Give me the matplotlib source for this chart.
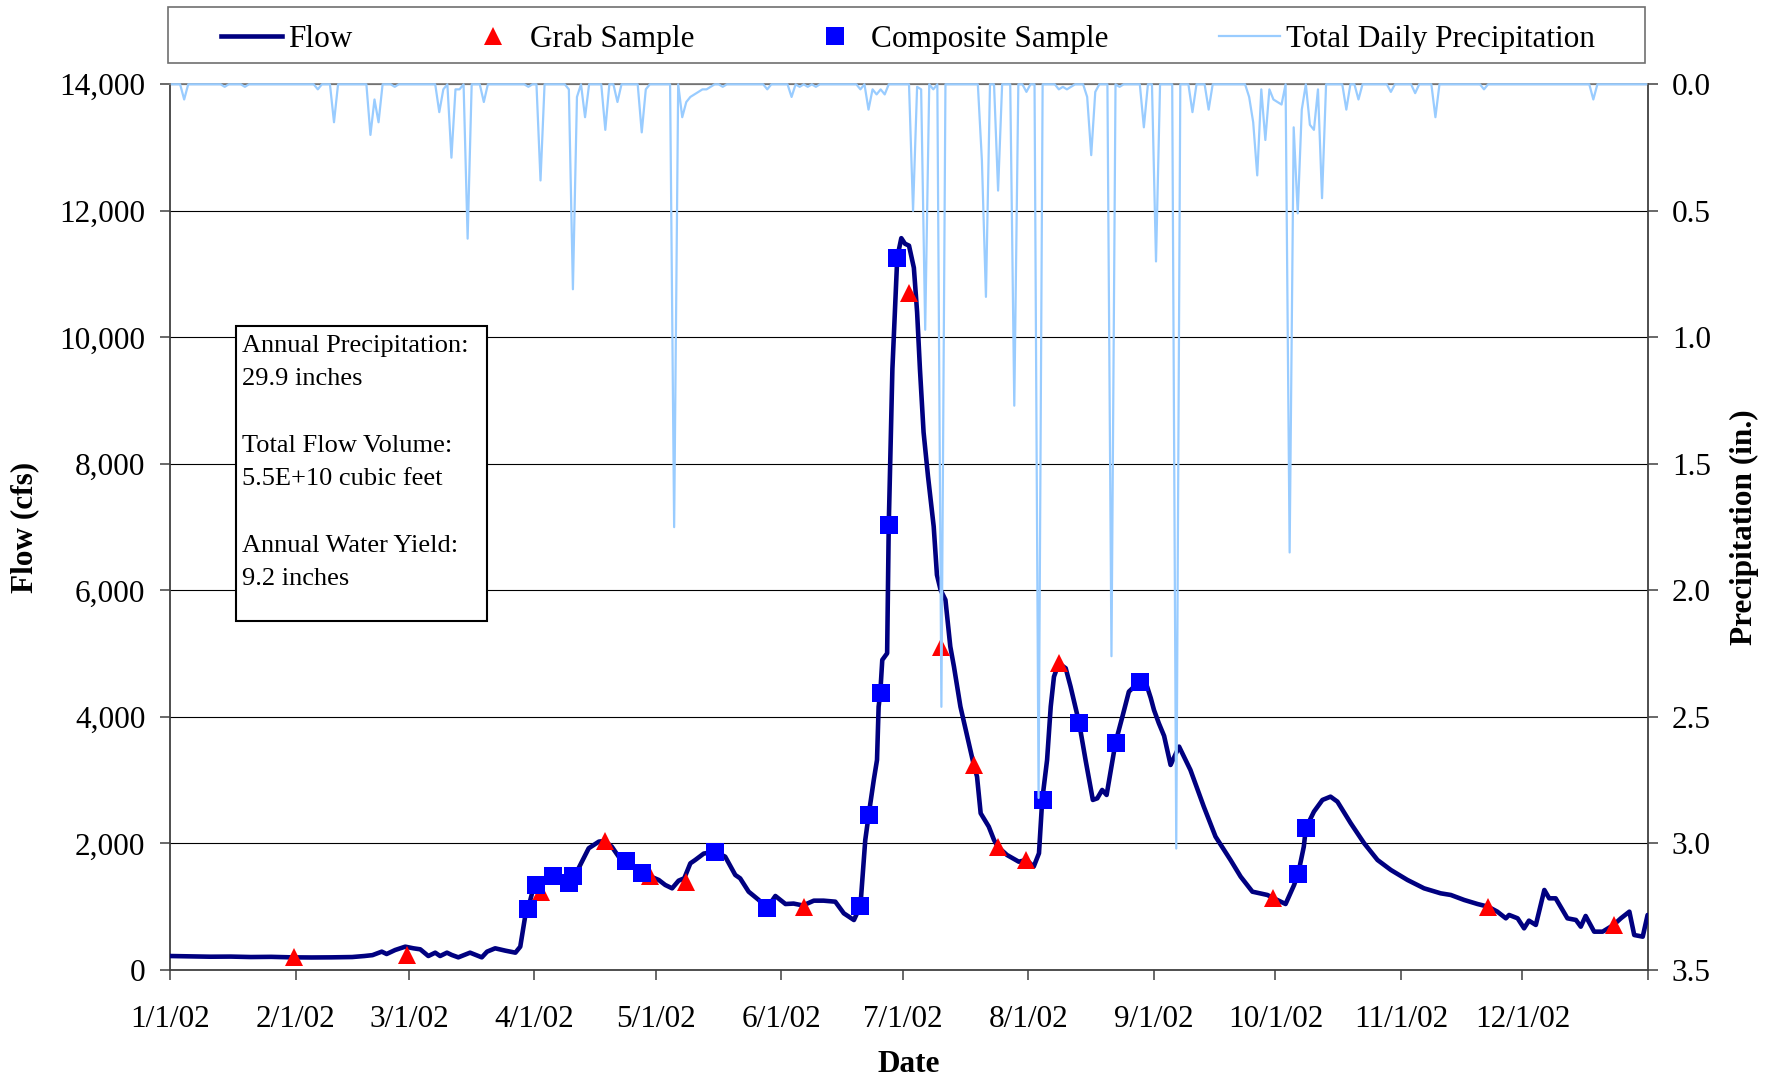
import numpy as np
import matplotlib
matplotlib.use("Agg")
import matplotlib.pyplot as plt
from matplotlib.lines import Line2D
from matplotlib.patches import Rectangle

plt.rcParams['font.family'] = ['Liberation Serif', 'DejaVu Serif']

# ---------------- data ----------------
month_start_day = [0, 31, 59, 90, 120, 151, 181, 212, 243, 273, 304, 334, 365]
month_labels = ['1/1/02', '2/1/02', '3/1/02', '4/1/02', '5/1/02', '6/1/02', '7/1/02',
                '8/1/02', '9/1/02', '10/1/02', '11/1/02', '12/1/02', '']

# day position since 1/1/02 (float) and daily flow (cfs)
flow_day = [0, 5, 10, 15, 20, 25, 30, 35, 40, 45, 48, 50, 52.3, 53.5, 55.6, 58.1, 60.1, 61.8,
            63.8, 65.5, 66.7, 68.4, 69.6, 71.2, 74.1, 77.0, 78.3, 80.3, 82.8, 85.3, 86.5, 87.7,
            88.4, 89.4, 90.4, 91.8, 94.3, 96.8, 98.4, 100.9, 103.4, 105.9, 107.3, 109.1, 110.8,
            112.4, 116.4, 118.4, 120.7, 122.3, 124.0, 125.6, 127.0, 128.5, 129.7, 131.8, 134.4,
            137.1, 139.6, 140.8, 142.9, 145.4, 147.4, 149.5, 152.0, 154.0, 156.3, 159.0, 161.4,
            164.3, 166.4, 168.9, 170.5, 171.7, 172.6, 173.8, 174.6, 175.0, 175.4, 175.9, 177.1,
            177.5, 178.4, 179.6, 180.6, 181.5, 182.5, 183.7, 184.5, 185.2, 186.1, 187.2, 188.6,
            189.4, 190.3, 191.5, 192.7, 193.6, 195.2, 196.9, 198.5, 199.3, 200.2, 202.2, 203.5,
            204.4, 206.7, 209.6, 211.5, 213.3, 214.6, 215.4, 216.6, 217.5, 218.3, 219.5, 221.2,
            222.4, 224.5, 226.1, 227.9, 229.0, 230.2, 231.3, 233.5, 235.2, 236.8, 239.4, 241.3,
            242.2, 243.0, 244.2, 245.5, 247.1, 249.2, 252.0, 255.3, 258.2, 261.9, 264.4, 267.3,
            271.0, 272.6, 275.5, 277.6, 278.6, 280.0, 280.5, 282.5, 284.6, 286.6, 288.3, 291.6,
            294.9, 298.2, 301.5, 305.6, 309.7, 313.8, 316.3, 319.6, 322.9, 325.5, 327.8, 329.9,
            330.7, 332.8, 334.4, 335.6, 337.3, 339.4, 340.6, 342.2, 345.1, 347.2, 348.4, 349.6,
            351.7, 353.8, 356.5, 358.3, 360.4, 361.6, 363.7, 364.9]
flow_cfs = [221, 215, 210, 212, 205, 208, 200, 198, 200, 205, 221, 235, 290, 253, 316, 369, 343, 327,
            221, 274, 221, 274, 237, 200, 274, 200, 290, 343, 306, 274, 369, 843,
            960, 1212, 1344, 1423, 1476, 1476, 1460, 1608, 1924, 2029, 2040, 1950, 1792,
            1729, 1529, 1486, 1423, 1344, 1291, 1412, 1450, 1686, 1739, 1840, 1871,
            1792, 1502, 1449, 1238, 1107, 975, 1170, 1043, 1050, 1020, 1096, 1096,
            1080, 896, 790, 1012, 2055, 2477, 3004, 3320, 4163, 4374, 4901, 5006,
            7036, 9500, 11262, 11568, 11480, 11450, 11100, 10400, 9500, 8500, 7800, 7009,
            6245, 6008, 5850, 5112, 4796, 4163, 3689, 3241, 3057, 2477, 2266, 2055,
            1950, 1818, 1712, 1739, 1634, 1845, 2688, 3320, 4163, 4637, 4848, 4770,
            4480, 3911, 3320, 2688, 2714, 2846, 2767, 3594, 4005, 4400, 4558, 4480,
            4300, 4110, 3900, 3700, 3241, 3531, 3162, 2582, 2108, 1739, 1476, 1238,
            1186, 1133, 1043, 1344, 1518, 1950, 2240, 2503, 2688, 2740, 2661, 2319,
            2003, 1739, 1581, 1423, 1291, 1212, 1186, 1107, 1043, 1001, 922, 817,
            870, 817, 659, 780, 712, 1265, 1133, 1133, 817, 791, 685, 854,
            606, 606, 712, 817, 922, 553, 527, 870]

# sample days (days since 1/1/02) and flow at sample
grab_day = [30, 58, 91, 107, 118, 127, 156, 182, 190, 198, 204, 211, 219, 272, 325, 356]
grab_cfs = [200, 242, 1238, 2040, 1486, 1397, 991, 10698, 5111, 3241, 1950, 1739, 4848, 1133, 1001, 712]
comp_day = [88, 90, 94, 98, 99, 112, 116, 134, 147, 170, 172, 175, 177, 179, 215, 224, 233, 239, 278, 280]
comp_cfs = [960, 1344, 1486, 1381, 1486, 1729, 1529, 1871, 975, 1012, 2445, 4374, 7036, 11262,
            2688, 3911, 3594, 4558, 1518, 2240]

# total daily precipitation (in.) on rain days (days since 1/1/02); other days are 0
rain_day = [3, 13, 18, 36, 40, 49, 50, 51, 55, 66, 67, 69, 70, 71, 73, 77, 88, 91, 98, 99, 100,
            102, 107, 110, 116, 117, 124, 126, 127, 128, 129, 130, 131, 132, 133, 136, 147, 153,
            155, 157, 159, 170, 172, 173, 174, 175, 176, 183, 184, 185, 186, 188, 190, 200, 201,
            204, 208, 211, 214, 219, 220, 221, 222, 226, 227, 228, 232, 234, 240, 243, 248, 252,
            256, 266, 267, 268, 269, 270, 271, 272, 273, 274, 276, 277, 278, 279, 281, 282, 283,
            284, 290, 293, 301, 307, 312, 324, 351]
rain_in = [0.06, 0.01, 0.01, 0.02, 0.15, 0.20, 0.06, 0.15, 0.01, 0.11, 0.02, 0.29, 0.02, 0.02, 0.61,
           0.07, 0.01, 0.38, 0.02, 0.81, 0.05,
           0.13, 0.18, 0.07, 0.19, 0.02, 1.75, 0.13, 0.07, 0.05, 0.04, 0.03, 0.02, 0.02, 0.01, 0.01,
           0.02, 0.05,
           0.01, 0.01, 0.01, 0.02, 0.10, 0.02, 0.04, 0.02, 0.04, 0.50, 0.01, 0.02, 0.97, 0.02, 2.46,
           0.30, 0.84,
           0.42, 1.27, 0.03, 2.82, 0.02, 0.01, 0.02, 0.01, 0.05, 0.28, 0.03, 2.26, 0.01, 0.17, 0.70,
           3.02, 0.11,
           0.10, 0.05, 0.15, 0.36, 0.02, 0.22, 0.02, 0.06, 0.07, 0.08, 1.85, 0.17, 0.51, 0.10, 0.16,
           0.18, 0.02,
           0.45, 0.10, 0.06, 0.03, 0.035, 0.13, 0.02, 0.06]

flow_ticks = [0, 2000, 4000, 6000, 8000, 10000, 12000, 14000]
precip_ticks = [0.0, 0.5, 1.0, 1.5, 2.0, 2.5, 3.0, 3.5]

info_lines = ["Annual Precipitation:", "29.9 inches", "", "Total Flow Volume:",
              "5.5E+10 cubic feet", "", "Annual Water Yield:", "9.2 inches"]

series_labels = ['Flow', 'Grab Sample', 'Composite Sample', 'Total Daily Precipitation']

# ---------------- figure ----------------
W, H = 1778, 1079
fig = plt.figure(figsize=(W / 100, H / 100), dpi=100)
fig.patch.set_facecolor('white')


def fx(px):
    return px / W


def fy(py):
    return 1 - py / H


L, R, T, B = 170, 1648, 84.3, 970
ax = fig.add_axes([fx(L), fy(B), (R - L) / W, (B - T) / H])
ax.set_xlim(0, 365)
ax.set_ylim(0, 14000)

FS = 22.5
NAVY = '#000080'
PRECIP = '#99CCFF'
ax.set_yticks(flow_ticks)
ax.set_yticklabels([f"{v:,}" for v in flow_ticks], fontsize=FS)
ax.set_xticks(month_start_day)
ax.set_xticklabels(month_labels, fontsize=FS)
ax.tick_params(axis='y', direction='out', length=7.2, width=1.1, color='#404040', pad=10.5)
ax.tick_params(axis='x', direction='out', length=7.2, width=1.1, color='#404040', pad=18)
ax.grid(axis='y', color='black', lw=0.8)
ax.set_axisbelow(True)
for s in ['left', 'bottom', 'right']:
    ax.spines[s].set_color('#404040')
    ax.spines[s].set_linewidth(1.3)
ax.spines['top'].set_color('#808080')
ax.spines['top'].set_linewidth(1.3)

ax.plot(flow_day, flow_cfs, color=NAVY, lw=3.3, solid_joinstyle='round',
        solid_capstyle='round', zorder=3)
ax.plot(np.array(grab_day) + 0.5, grab_cfs, ls='none', marker='^', ms=12.5,
        color='#FF0000', mew=0, zorder=4)
ax.plot(np.array(comp_day) + 0.5, comp_cfs, ls='none', marker='s', ms=13,
        color='#0000FF', mew=0, zorder=4)

ax2 = ax.twinx()
ax2.set_ylim(3.5, 0)
rain = np.zeros(365)
rain[np.array(rain_day)] = rain_in
ax2.plot(np.arange(365) + 0.5, rain, color=PRECIP, lw=1.6, clip_on=False, zorder=3,
         solid_joinstyle='round')
ax2.set_yticks(precip_ticks)
ax2.set_yticklabels([f"{v:.1f}" for v in precip_ticks], fontsize=FS)
ax2.tick_params(axis='y', direction='out', length=7.2, width=1.1, color='#404040', pad=10)
for s in ax2.spines.values():
    s.set_visible(False)

# axis titles
fig.text(fx(25), fy(527), 'Flow (cfs)', rotation=90, ha='center', va='center',
         fontsize=FS, fontweight='bold')
fig.text(fx(1744), fy(527), 'Precipitation (in.)', rotation=90, ha='center', va='center',
         fontsize=FS, fontweight='bold')
fig.text(fx(909), fy(1064), 'Date', ha='center', va='center', fontsize=FS, fontweight='bold')

# legend
fig.add_artist(Rectangle((fx(168), fy(63)), (1645 - 168) / W, 56 / H, transform=fig.transFigure,
                         facecolor='white', edgecolor='#707070', lw=1.2, zorder=1))
handles = [Line2D([], [], color=NAVY, lw=3.3),
           Line2D([], [], ls='none', marker='^', ms=12.5, color='#FF0000', mew=0),
           Line2D([], [], ls='none', marker='s', ms=13, color='#0000FF', mew=0),
           Line2D([], [], color=PRECIP, lw=1.6)]
leg = fig.legend(handles, series_labels, loc='center',
                 bbox_to_anchor=(fx(221), fy(67), (1595 - 221) / W, 56 / H),
                 mode='expand', ncol=4, frameon=False, borderaxespad=0, borderpad=0,
                 handlelength=1.94, handletextpad=0.2, fontsize=FS)
leg.set_zorder(2)

# info box
fig.add_artist(Rectangle((fx(236), fy(621)), 251 / W, 295 / H, transform=fig.transFigure,
                         facecolor='white', edgecolor='black', lw=1.5, zorder=5))
for k, line in enumerate(info_lines):
    if line:
        fig.text(fx(241.7), fy(351.7 + k * 33.3), line, ha='left', va='baseline',
                 fontsize=19, zorder=6)

fig.savefig('out.png', dpi=100, facecolor='white')
